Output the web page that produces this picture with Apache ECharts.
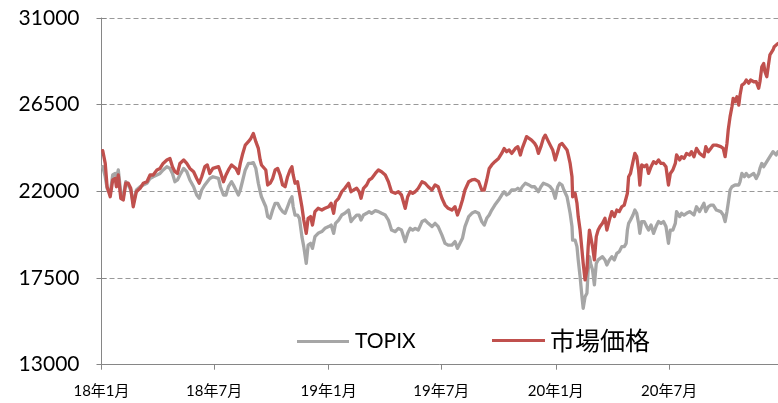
<!DOCTYPE html>
<html>
<head>
<meta charset="utf-8">
<script src="https://cdn.jsdelivr.net/npm/echarts@6/dist/echarts.min.js"></script>
<style>
  html, body { margin: 0; padding: 0; background: #ffffff; }
  #chart { width: 778px; height: 403px; }
</style>
</head>
<body>
<div id="chart"></div>
<script>
// Observation dates shared by both series
const dates = [
  '2018-01-03','2018-01-07','2018-01-10','2018-01-15','2018-01-19','2018-01-23','2018-01-25','2018-01-28',
  '2018-02-01','2018-02-05','2018-02-09','2018-02-13','2018-02-17','2018-02-21','2018-02-24','2018-02-26',
  '2018-03-04','2018-03-09','2018-03-15','2018-03-20','2018-03-25','2018-03-31',
  '2018-04-05','2018-04-10','2018-04-16','2018-04-21','2018-04-25','2018-04-29',
  '2018-05-03','2018-05-07','2018-05-13','2018-05-18','2018-05-23','2018-05-29',
  '2018-06-03','2018-06-07','2018-06-11','2018-06-16','2018-06-20','2018-06-24','2018-06-29',
  '2018-07-02','2018-07-08','2018-07-11','2018-07-16','2018-07-20','2018-07-24','2018-07-29',
  '2018-08-01','2018-08-05','2018-08-09','2018-08-12','2018-08-16','2018-08-20','2018-08-25','2018-08-29',
  '2018-09-02','2018-09-06','2018-09-10','2018-09-13','2018-09-15','2018-09-18','2018-09-22','2018-09-25','2018-09-29',
  '2018-10-03','2018-10-07','2018-10-11','2018-10-15','2018-10-19','2018-10-23','2018-10-27','2018-10-31',
  '2018-11-03','2018-11-05','2018-11-08','2018-11-12','2018-11-15','2018-11-19','2018-11-22','2018-11-26','2018-11-29',
  '2018-12-03','2018-12-06','2018-12-10','2018-12-15','2018-12-21','2018-12-26',
  '2019-01-01','2019-01-05','2019-01-09','2019-01-12','2019-01-17','2019-01-22','2019-01-27',
  '2019-02-02','2019-02-06','2019-02-10','2019-02-15','2019-02-19','2019-02-22','2019-02-26',
  '2019-03-03','2019-03-07','2019-03-11','2019-03-17','2019-03-22','2019-03-27',
  '2019-04-02','2019-04-07','2019-04-12','2019-04-18','2019-04-23','2019-04-28',
  '2019-05-04','2019-05-08','2019-05-12','2019-05-16','2019-05-20','2019-05-25','2019-05-31',
  '2019-06-05','2019-06-10','2019-06-16','2019-06-21','2019-06-26',
  '2019-07-02','2019-07-07','2019-07-12','2019-07-18','2019-07-23','2019-07-27','2019-07-31',
  '2019-08-04','2019-08-08','2019-08-14','2019-08-19','2019-08-24','2019-08-30',
  '2019-09-04','2019-09-08','2019-09-12','2019-09-16','2019-09-20','2019-09-25',
  '2019-10-01','2019-10-06','2019-10-10','2019-10-14','2019-10-18','2019-10-22','2019-10-28',
  '2019-11-01','2019-11-05','2019-11-08','2019-11-13','2019-11-15','2019-11-19','2019-11-23','2019-11-28',
  '2019-12-01','2019-12-04','2019-12-08','2019-12-12','2019-12-15','2019-12-19','2019-12-23','2019-12-27','2019-12-31',
  '2020-01-04','2020-01-07','2020-01-11','2020-01-14','2020-01-19','2020-01-21','2020-01-24','2020-01-27','2020-01-28',
  '2020-02-01','2020-02-04','2020-02-06','2020-02-09','2020-02-12','2020-02-14','2020-02-17','2020-02-20','2020-02-22','2020-02-24','2020-02-26','2020-02-29',
  '2020-03-03','2020-03-06','2020-03-09','2020-03-12','2020-03-16','2020-03-20','2020-03-23','2020-03-27','2020-03-31',
  '2020-04-04','2020-04-08','2020-04-12','2020-04-16','2020-04-20','2020-04-23','2020-04-25','2020-04-27','2020-04-30',
  '2020-05-04','2020-05-07','2020-05-10','2020-05-13','2020-05-15','2020-05-18','2020-05-22','2020-05-26','2020-05-29',
  '2020-06-02','2020-06-06','2020-06-10','2020-06-14','2020-06-18','2020-06-22','2020-06-26','2020-06-30',
  '2020-07-03','2020-07-07','2020-07-11','2020-07-13','2020-07-18','2020-07-21','2020-07-25','2020-07-29',
  '2020-08-03','2020-08-06','2020-08-10','2020-08-14','2020-08-19','2020-08-22','2020-08-26','2020-08-29',
  '2020-09-02','2020-09-06','2020-09-10','2020-09-15','2020-09-18','2020-09-22','2020-09-26','2020-09-29',
  '2020-10-02','2020-10-04','2020-10-07','2020-10-10','2020-10-12','2020-10-15','2020-10-18','2020-10-21','2020-10-23','2020-10-26','2020-10-30',
  '2020-11-02','2020-11-06','2020-11-09','2020-11-14','2020-11-18','2020-11-22','2020-11-24','2020-11-27','2020-11-30',
  '2020-12-02','2020-12-05','2020-12-08','2020-12-10','2020-12-15','2020-12-17','2020-12-20','2020-12-23'
];

// TOPIX, rescaled to the price axis
const topix = [
  23280,22760,22160,21900,22850,22930,22670,23110,
  21900,21720,22500,22330,22070,21380,21340,22070,
  22240,22330,22420,22670,22760,22850,
  22930,23110,23280,23190,22930,22500,
  22590,22850,23190,23020,22590,22240,
  21810,21640,22070,22330,22500,22670,22760,
  22850,22670,22240,21810,21810,22240,22500,
  22330,22070,21810,22070,22590,23110,23450,23450,
  23490,23190,22420,21980,21720,21810,21200,20690,20600,
  21030,21380,21380,21120,20950,20860,21200,21550,
  21720,21200,20770,20770,20600,19650,19130,18260,19210,
  19300,19040,19650,19820,19910,20080,
  20170,20250,19820,20340,20510,20770,20860,
  21030,20430,20600,20770,20770,20510,20770,
  20860,20950,20860,21000,20950,20860,
  20770,20510,19990,19910,20080,19990,
  19390,19820,20080,19990,20080,19990,20430,
  20510,20340,20170,20340,20170,
  19730,19300,19210,19210,19390,19040,19300,
  19560,20170,20690,20860,20950,20860,
  20430,20250,20600,20770,21030,21290,
  21550,21810,21980,21810,21900,22070,22070,
  22160,22070,22240,22420,22500,22330,22240,22240,
  22160,21980,22240,22420,22500,22330,22240,22070,21640,
  22240,22420,22330,22070,21720,21380,20860,20170,19470,
  19470,19130,18440,17570,16530,15930,16530,16710,17920,18610,18260,17920,
  17140,18260,18440,18350,18610,18440,18180,18440,18610,
  18440,18780,18870,19130,19130,19300,19990,20340,20510,
  20770,21030,20860,20340,19820,20430,20430,20170,19990,
  20250,19820,20170,20430,20340,20430,20170,19300,
  19990,19990,20340,20950,20690,20860,20770,20860,
  20950,20860,20770,21200,20950,20950,21380,20950,
  21200,21290,21290,21030,21030,20950,20770,20430,
  20950,21380,22070,22240,22240,22330,22240,22330,22500,22930,22760,
  22930,22760,22850,22930,22670,22930,23190,23450,23280,
  23370,23540,23630,23800,24060,23970,23890,24060
];

// 市場価格
const market = [
  24110,23450,22240,21720,22590,22670,22240,22850,
  21640,21550,22420,22420,22160,21200,21170,21980,
  22160,22420,22500,22850,22850,23110,
  23190,23450,23630,23710,23280,23020,
  22930,23450,23630,23450,23190,23020,
  22670,22420,22760,23280,23370,22930,23190,
  23280,23280,23020,22500,22850,23110,23370,
  23450,23190,22930,23450,23970,24400,24580,24750,
  25010,24580,24230,23630,23370,23450,23110,22330,22420,
  22670,23110,23190,22850,22330,22240,22760,23110,
  23280,22850,22420,22500,22420,21200,20510,19820,20600,
  20690,20250,20950,21120,21030,21120,
  21200,21380,20860,21460,21640,21980,22160,
  22420,21980,22070,22160,21980,21640,22160,
  22330,22590,22670,22930,23110,23020,
  22850,22500,21980,21900,21980,21810,
  21120,21720,21980,21900,21980,22160,22500,
  22420,22240,22070,22330,22240,
  21640,21290,21120,21030,21200,20770,21120,
  21550,22070,22500,22590,22620,22500,
  22070,22070,22590,23190,23370,23540,
  23710,23970,24230,24060,24150,23970,24230,
  24320,23890,24230,24660,24840,24750,24660,24490,
  24320,23970,24320,24750,24920,24660,24400,24150,23630,
  24060,24400,24490,24400,24150,23890,23450,22760,21720,
  21900,21380,20690,19990,18960,18260,17400,17920,19130,19990,19650,19130,
  18440,19650,19990,20170,20340,20600,19990,20510,20950,
  20690,21030,20950,21200,21290,21380,21900,22760,22930,
  23540,23970,23800,23110,22330,23370,23280,23370,22930,
  23280,23540,23450,23630,23450,23450,23280,22330,
  22930,23110,23450,23890,23630,23800,23710,23970,
  23890,24060,23800,24230,23970,24060,23800,24320,
  24060,24230,24400,24400,24490,24320,24230,23800,
  24490,25180,25880,26390,26830,26650,26910,26480,27000,27520,27610,
  27780,27610,27780,27690,27690,27350,27690,28470,28640,
  28210,27950,28640,29080,29340,29510,29600,29680
];

// Axis ticks
const tickDates = ['2018-01-01','2018-07-01','2019-01-01','2019-07-01','2020-01-01','2020-07-01'];
const tickLabels = ['18年1月','18年7月','19年1月','19年7月','20年1月','20年7月'];
const yTicks = [13000, 17500, 22000, 26500, 31000];
const xStart = '2018-01-01';
const xEnd = '2020-12-23';

// Dates become local-midnight timestamps on a numeric axis
function localTime(s) {
  const p = s.split('-').map(Number);
  return new Date(p[0], p[1] - 1, p[2]).getTime();
}
const tickTimes = tickDates.map(localTime);
const times = dates.map(localTime);

const latin = "Lato, 'Noto Sans', sans-serif";
const cjk = "Lato, 'Noto Sans CJK JP', sans-serif";
const axisGray = '#868686';
const grayLine = '#a6a6a6';
const redLine = '#c0504d';

const chart = echarts.init(document.getElementById('chart'), null, { renderer: 'canvas' });

const yCommon = {
  type: 'value',
  min: yTicks[0],
  max: yTicks[yTicks.length - 1],
  interval: yTicks[1] - yTicks[0]
};

chart.setOption({
  animation: false,
  backgroundColor: '#ffffff',
  grid: { left: 101.5, right: 0, top: 18, bottom: 38.3, containLabel: false },
  legend: [
    {
      data: [{ name: 'TOPIX', icon: 'rect' }],
      left: 292,
      top: 326,
      itemWidth: 52,
      itemHeight: 3,
      itemGap: 0,
      textStyle: { fontFamily: latin, fontSize: 21, color: '#000', padding: [0, 0, 0, 1] }
    },
    {
      data: [{ name: '市場価格', icon: 'rect' }],
      left: 487,
      top: 323,
      itemWidth: 53,
      itemHeight: 3,
      itemGap: 0,
      textStyle: { fontFamily: "'Noto Sans CJK JP', sans-serif", fontSize: 25, color: '#000' }
    }
  ],
  xAxis: {
    type: 'value',
    min: localTime(xStart),
    max: localTime(xEnd),
    axisLine: { show: true, onZero: false, lineStyle: { color: axisGray, width: 1 } },
    axisTick: {
      show: true,
      customValues: tickTimes,
      length: 5,
      lineStyle: { color: axisGray }
    },
    axisLabel: {
      customValues: tickTimes,
      margin: 19,
      fontFamily: cjk,
      fontSize: 15,
      color: '#000',
      formatter: function (val) {
        const i = tickTimes.indexOf(val);
        return i >= 0 ? tickLabels[i] : '';
      }
    },
    splitLine: { show: false }
  },
  yAxis: [
    Object.assign({}, yCommon, {
      position: 'left',
      axisLine: { show: true, lineStyle: { color: axisGray, width: 1 } },
      axisTick: { show: true, length: 5, lineStyle: { color: axisGray } },
      axisLabel: {
        margin: 22,
        fontFamily: latin,
        fontSize: 21,
        color: '#000',
        formatter: function (v) { return String(v); }
      },
      splitLine: {
        show: true,
        showMinLine: false,
        lineStyle: { color: '#999999', type: [5, 3], width: 1 }
      }
    }),
    Object.assign({}, yCommon, {
      position: 'left',
      axisLine: { show: false },
      axisTick: { show: true, inside: true, length: 5, lineStyle: { color: axisGray } },
      axisLabel: { show: false },
      splitLine: { show: false }
    })
  ],
  series: [
    {
      name: 'TOPIX',
      type: 'line',
      yAxisIndex: 0,
      data: times.map((t, i) => [t, topix[i]]),
      symbol: 'none',
      showSymbol: false,
      lineStyle: { color: grayLine, width: 3.3, join: 'round', cap: 'round' },
      itemStyle: { color: grayLine }
    },
    {
      name: '市場価格',
      type: 'line',
      yAxisIndex: 0,
      data: times.map((t, i) => [t, market[i]]),
      symbol: 'none',
      showSymbol: false,
      lineStyle: { color: redLine, width: 3.3, join: 'round', cap: 'round' },
      itemStyle: { color: redLine }
    }
  ]
});
</script>
</body>
</html>
